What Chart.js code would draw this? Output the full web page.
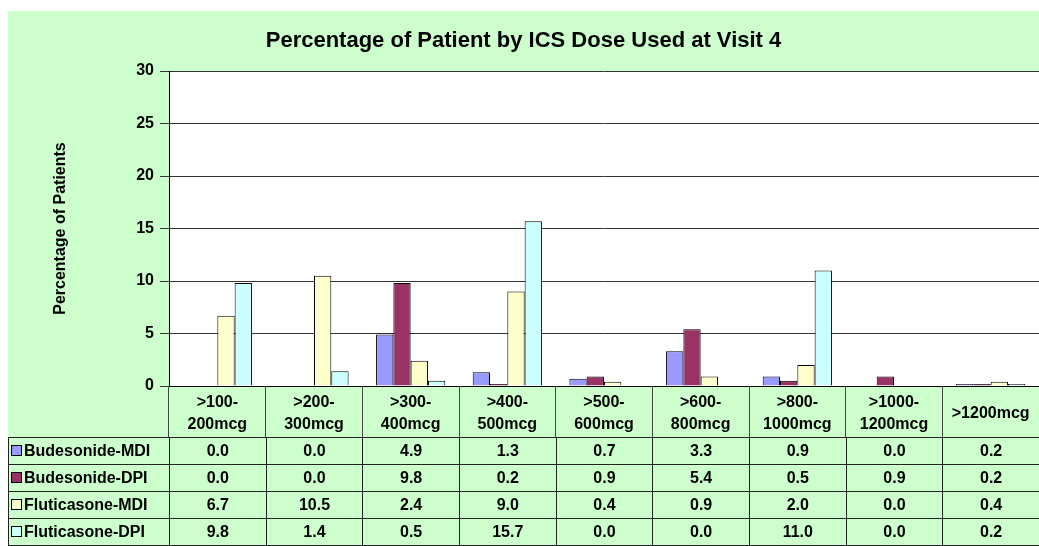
<!DOCTYPE html>
<html>
<head>
  <title>Percentage of Patient by ICS Dose Used at Visit 4</title>
  <script src="https://cdn.jsdelivr.net/npm/chart.js@4/dist/chart.umd.min.js"></script>
  <style>
    body { margin: 0; background: #fff; font-family: "Liberation Sans", Arial, sans-serif; }
    #wrap { position: absolute; left: 8px; top: 11px; width: 1031px; height: 535px; background: #CCFFCC; overflow: hidden; }
    #chart { position: absolute; left: 0; top: 0; }
    #dataTable { position: absolute; left: 0; top: 426px; width: 1032px; border-collapse: collapse; table-layout: fixed; }
    #dataTable td { border: 1px solid #222; height: 26px; padding: 0; font-size: 16px; font-weight: bold; text-align: center; color: #000; }
    #dataTable td.name { text-align: left; padding-left: 2px; white-space: nowrap; }
    .key { display: inline-block; width: 9px; height: 9px; border: 1px solid #000; margin-right: 2px; vertical-align: 0px; }
  </style>
</head>
<body>
  <div id="wrap">
    <canvas id="chart" width="1031" height="535"></canvas>
    <table id="dataTable"></table>
  </div>
<script>
    // Dose groups (x axis) and the four inhaler series
    const doseLabels = [
      ['>100-', '200mcg'], ['>200-', '300mcg'], ['>300-', '400mcg'],
      ['>400-', '500mcg'], ['>500-', '600mcg'], ['>600-', '800mcg'],
      ['>800-', '1000mcg'], ['>1000-', '1200mcg'], '>1200mcg'
    ];
    const seriesNames = ['Budesonide-MDI', 'Budesonide-DPI', 'Fluticasone-MDI', 'Fluticasone-DPI'];
    const seriesColors = ['#9999FF', '#993366', '#FFFFCC', '#CCFFFF'];

    const budesonideMDI = [0.0, 0.0, 4.9, 1.3, 0.7, 3.3, 0.9, 0.0, 0.2];
    const budesonideDPI = [0.0, 0.0, 9.8, 0.2, 0.9, 5.4, 0.5, 0.9, 0.2];
    const fluticasoneMDI = [6.7, 10.5, 2.4, 9.0, 0.4, 0.9, 2.0, 0.0, 0.4];
    const fluticasoneDPI = [9.8, 1.4, 0.5, 15.7, 0.0, 0.0, 11.0, 0.0, 0.2];

    const seriesValues = [budesonideMDI, budesonideDPI, fluticasoneMDI, fluticasoneDPI];

    Chart.defaults.font.family = '"Liberation Sans", Arial, sans-serif';
    Chart.defaults.color = '#000';

    // white plot area on the green chart background
    const plotBackground = {
      id: 'plotBackground',
      beforeDraw(chart) {
        const { ctx, chartArea } = chart;
        ctx.save();
        ctx.fillStyle = '#fff';
        ctx.fillRect(chartArea.left, chartArea.top, chartArea.right - chartArea.left, chartArea.bottom - chartArea.top);
        ctx.restore();
      }
    };

    new Chart(document.getElementById('chart'), {
      type: 'bar',
      data: {
        labels: doseLabels,
        datasets: seriesNames.map((name, i) => ({
          label: name,
          data: seriesValues[i],
          backgroundColor: seriesColors[i],
          borderColor: '#000',
          borderWidth: 1,
          borderSkipped: 'start',
          barPercentage: 1,
          categoryPercentage: 0.716
        }))
      },
      options: {
        responsive: false,
        animation: false,
        layout: { padding: { left: 0, right: 0, top: 0, bottom: 109 } },
        plugins: {
          legend: { display: false },
          tooltip: { enabled: false },
          title: {
            display: true,
            text: 'Percentage of Patient by ICS Dose Used at Visit 4',
            font: { size: 22, weight: 'bold' },
            color: '#000',
            padding: { top: 17, bottom: 16.6 }
          }
        },
        scales: {
          x: {
            grid: { offset: true, drawOnChartArea: false, tickLength: 51, color: '#444' },
            border: { color: '#000' },
            ticks: {
              padding: -34,
              crossAlign: 'center',
              maxRotation: 0,
              autoSkip: false,
              font: { size: 16, weight: 'bold', lineHeight: 1.35 }
            },
            afterFit: (scale) => { scale.height = 51; }
          },
          y: {
            min: 0,
            max: 30,
            ticks: { stepSize: 5, padding: 6, font: { size: 16, weight: 'bold' } },
            grid: { color: '#333', tickLength: 9 },
            border: { color: '#000' },
            title: {
              display: true,
              text: 'Percentage of Patients',
              font: { size: 16, weight: 'bold' },
              padding: { top: 43, bottom: 0 }
            },
            afterFit: (scale) => { scale.width = 161; }
          }
        }
      },
      plugins: [plotBackground]
    });

    // data table under the axis (doubles as the legend)
    function buildTable() {
      const table = document.getElementById('dataTable');
      let html = '<colgroup><col style="width:161px">';
      doseLabels.forEach(() => { html += '<col>'; });
      html += '</colgroup>';
      seriesNames.forEach((name, i) => {
        html += '<tr><td class="name"><span class="key" style="background:' + seriesColors[i] + '"></span>' + name + '</td>';
        seriesValues[i].forEach(v => { html += '<td>' + v.toFixed(1) + '</td>'; });
        html += '</tr>';
      });
      table.innerHTML = html;
    }
    buildTable();
  </script>
</body>
</html>
